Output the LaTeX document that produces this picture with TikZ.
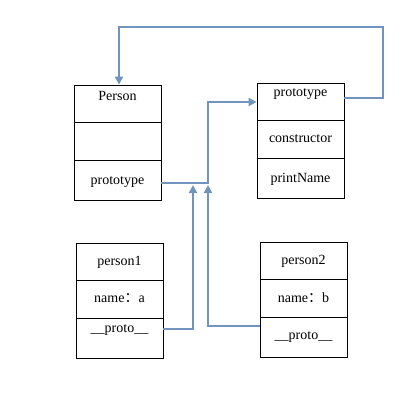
\documentclass[tikz,border=0pt]{standalone}
\usepackage{fontspec}
\setmainfont{Liberation Serif}
\newfontfamily\cjk{Noto Sans CJK SC}
\usetikzlibrary{arrows.meta}
\definecolor{linkblue}{RGB}{113,148,190}
\begin{document}
\begin{tikzpicture}[x=1pt,y=-1pt,
  font=\fontsize{14}{16}\selectfont,
  box/.style={draw=black, line width=0.8pt, inner sep=0pt, minimum width=87pt, minimum height=115pt},
  sep/.style={draw=black, line width=0.8pt},
  lbl/.style={inner sep=0pt},
  link/.style={draw=linkblue, line width=2pt, -{Triangle[length=8pt,width=8pt]}}]
\useasboundingbox (0,0) rectangle (402,416);

% boxes
\node[box] (person) at (117.5,142.5) {};
\node[box] (proto)  at (300.5,140.5) {};
\node[box] (p1)     at (119.5,300.5) {};
\node[box] (p2)     at (303.5,299.5) {};

% dividers
\draw[sep] (74,122) -- (161,122);
\draw[sep] (74,160) -- (161,160);
\draw[sep] (257,120) -- (344,120);
\draw[sep] (257,158) -- (344,158);
\draw[sep] (76,280) -- (163,280);
\draw[sep] (76,318) -- (163,318);
\draw[sep] (260,279) -- (347,279);
\draw[sep] (260,317) -- (347,317);

% labels
\node[lbl] (tPerson) at (117.5,96) {Person};
\node[lbl] (tPproto) at (117.5,182) {prototype};
\node[lbl] (tProto)  at (300.5,94) {prototype};
\node[lbl] (tCons)   at (300.5,139) {constructor};
\node[lbl] (tPrint)  at (300.5,179) {printName};
\node[lbl] (tP1)     at (119.5,262) {person1};
\node[lbl] (tN1)     at (119.5,298) {name{\cjk ：}a};
\node[lbl] (tX1)     at (119.5,330) {\_\_proto\_\_};
\node[lbl] (tP2)     at (303.5,261) {person2};
\node[lbl] (tN2)     at (303.5,298) {name{\cjk ：}b};
\node[lbl] (tX2)     at (303.5,337) {\_\_proto\_\_};

% connectors
\coordinate (j1) at (208,183);
\coordinate (loopR) at (383,27);
\draw[link] (person.east |- 0,183) -- (j1) |- (proto.west |- 0,102);
\draw[link] (proto.east |- 0,98) -| (loopR) -| ([xshift=1.5pt]person.north);
\draw[link] (p1.east |- 0,329) -| (193,185);
\draw[link] (p2.west |- 0,326) -| (208,185);
\end{tikzpicture}
\end{document}
